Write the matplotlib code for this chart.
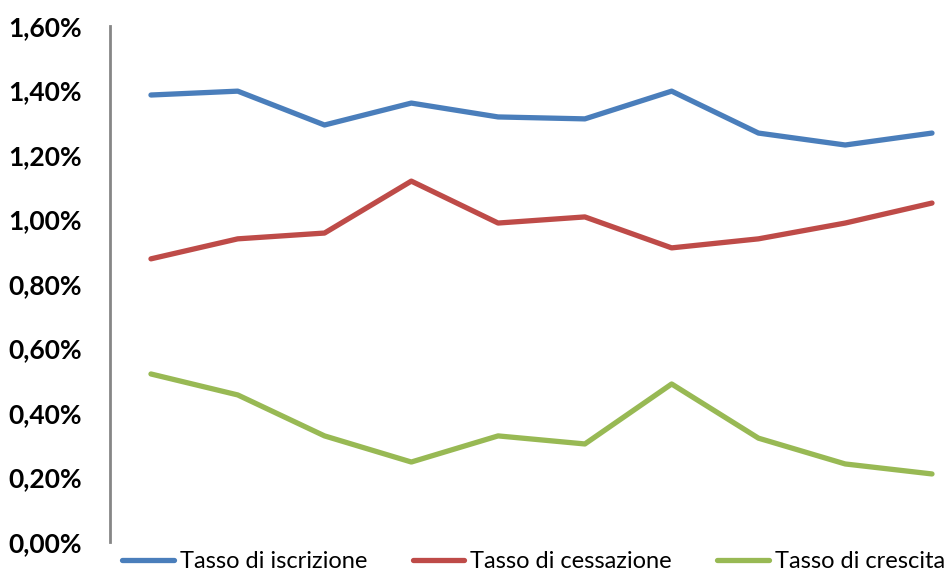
import matplotlib
matplotlib.use("Agg")
import matplotlib.pyplot as plt
from matplotlib.ticker import FuncFormatter

periods = list(range(10))
iscrizione = [1.386, 1.398, 1.293, 1.361, 1.318, 1.312, 1.398, 1.268, 1.231, 1.268]
cessazione = [0.878, 0.940, 0.958, 1.119, 0.989, 1.008, 0.912, 0.940, 0.989, 1.051]
crescita = [0.521, 0.456, 0.329, 0.248, 0.329, 0.304, 0.490, 0.322, 0.242, 0.211]
labels = ["Tasso di iscrizione", "Tasso di cessazione", "Tasso di crescita"]
colors = ["#4A7EBB", "#BE4B48", "#98B954"]
yticks = [0.0, 0.2, 0.4, 0.6, 0.8, 1.0, 1.2, 1.4, 1.6]

plt.rcParams['font.family'] = ['Lato', 'DejaVu Sans']

fig = plt.figure(figsize=(9.53, 5.75), dpi=100)
ax = fig.add_axes([110/953, 33/575, 1 - 110/953, 516/575])

for vals, lab, col in zip([iscrizione, cessazione, crescita], labels, colors):
    ax.plot(periods, vals, color=col, lw=3.8, label=lab, solid_capstyle='round', solid_joinstyle='round')

ax.set_ylim(0, 1.6)
ax.set_xlim(-0.472, 9.242)
ax.set_yticks(yticks)
ax.yaxis.set_major_formatter(FuncFormatter(lambda v, p: f"{v:.2f}%".replace('.', ',')))
ax.tick_params(axis='y', length=0, pad=20, labelsize=19)
for t in ax.get_yticklabels():
    t.set_fontweight('bold')
ax.set_xticks([])
for s in ['top', 'right', 'bottom']:
    ax.spines[s].set_visible(False)
ax.spines['left'].set_color('#868686')
ax.spines['left'].set_linewidth(2)

fig.legend(loc='lower left', bbox_to_anchor=(113/953, -0.011), ncol=3, frameon=False,
           fontsize=17, handlelength=2.2, handletextpad=0.25, columnspacing=1.9,
           borderaxespad=0)

fig.savefig("out.png", dpi=100)
